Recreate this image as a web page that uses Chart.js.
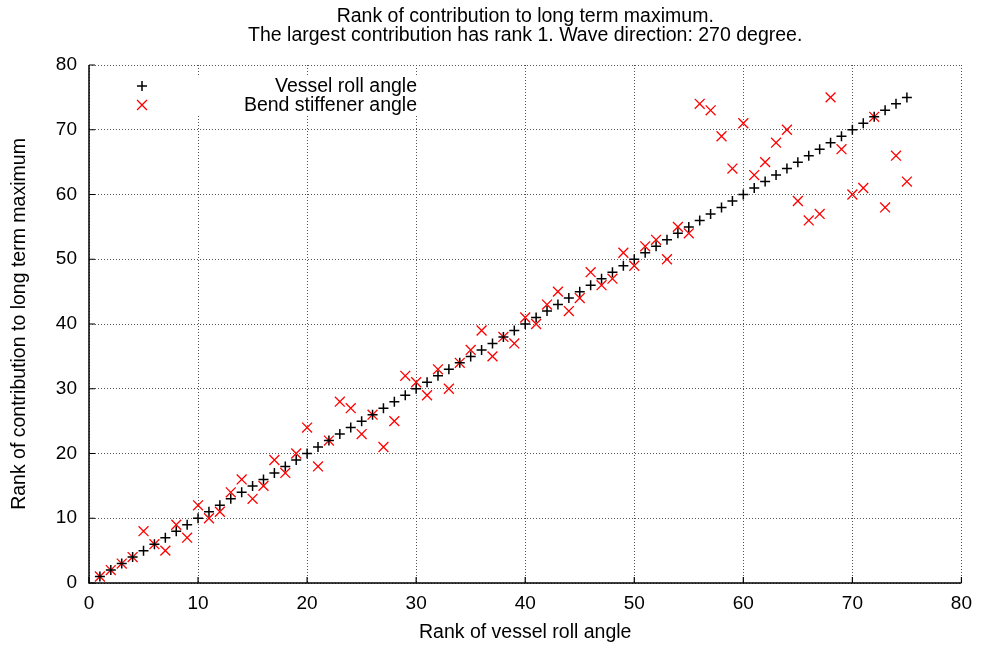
<!DOCTYPE html>
<html>
<head>
<meta charset="utf-8">
<script src="https://cdn.jsdelivr.net/npm/chart.js@4/dist/chart.umd.min.js"></script>
<style>
  html, body { margin: 0; padding: 0; background: #fff; }
  #wrap { width: 981px; height: 646px; }
</style>
</head>
<body>
<div id="wrap"><canvas id="rankChart" width="981" height="646"></canvas></div>
<script>
const rankX = [1, 2, 3, 4, 5, 6, 7, 8, 9, 10, 11, 12, 13, 14, 15, 16, 17, 18, 19, 20,
  21, 22, 23, 24, 25, 26, 27, 28, 29, 30, 31, 32, 33, 34, 35, 36, 37, 38, 39, 40,
  41, 42, 43, 44, 45, 46, 47, 48, 49, 50, 51, 52, 53, 54, 55, 56, 57, 58, 59, 60,
  61, 62, 63, 64, 65, 66, 67, 68, 69, 70, 71, 72, 73, 74, 75];

const vesselRank = [1, 2, 3, 4, 5, 6, 7, 8, 9, 10, 11, 12, 13, 14, 15, 16, 17, 18, 19, 20,
  21, 22, 23, 24, 25, 26, 27, 28, 29, 30, 31, 32, 33, 34, 35, 36, 37, 38, 39, 40,
  41, 42, 43, 44, 45, 46, 47, 48, 49, 50, 51, 52, 53, 54, 55, 56, 57, 58, 59, 60,
  61, 62, 63, 64, 65, 66, 67, 68, 69, 70, 71, 72, 73, 74, 75];

const bendRank = [1, 2, 3, 4, 8, 6, 5, 9, 7, 12, 10, 11, 14, 16, 13, 15, 19, 17, 20, 24,
  18, 22, 28, 27, 23, 26, 21, 25, 32, 31, 29, 33, 30, 34, 36, 39, 35, 38, 37, 41,
  40, 43, 45, 42, 44, 48, 46, 47, 51, 49, 52, 53, 50, 55, 54, 74, 73, 69, 64, 71,
  63, 65, 68, 70, 59, 56, 57, 75, 67, 60, 61, 72, 58, 66, 62];

const tickValues = [0, 10, 20, 30, 40, 50, 60, 70, 80];

const titleLines = ['Rank of contribution to long term maximum.',
                    'The largest contribution has rank 1. Wave direction: 270 degree.'];

const FONT = "'Liberation Sans', Arial, sans-serif";
const TEXT_SIZE = 19.5;

// title centred over the plot area
const plotTitle = {
    id: 'plotTitle',
    afterDraw(chart) {
        const {ctx, chartArea} = chart;
        const cx = (chartArea.left + chartArea.right) / 2;
        ctx.save();
        ctx.font = TEXT_SIZE + 'px ' + FONT;
        ctx.fillStyle = '#000';
        ctx.textAlign = 'center';
        ctx.textBaseline = 'middle';
        titleLines.forEach((line, i) => ctx.fillText(line, cx, 17 + i * 19));
        ctx.restore();
    }
};

// inward tick marks and solid left/bottom axis lines
const innerTicks = {
    id: 'innerTicks',
    afterDraw(chart) {
        const {ctx, chartArea, scales} = chart;
        ctx.save();
        ctx.strokeStyle = '#000';
        ctx.lineWidth = 1.2;
        ctx.beginPath();
        tickValues.forEach(v => {
            const px = scales.x.getPixelForValue(v);
            ctx.moveTo(px, chartArea.bottom);
            ctx.lineTo(px, chartArea.bottom - 6);
            const py = scales.y.getPixelForValue(v);
            ctx.moveTo(chartArea.left, py);
            ctx.lineTo(chartArea.left + 6, py);
        });
        ctx.stroke();
        ctx.lineWidth = 1.5;
        ctx.beginPath();
        ctx.moveTo(chartArea.left, chartArea.top);
        ctx.lineTo(chartArea.left, chartArea.bottom);
        ctx.lineTo(chartArea.right, chartArea.bottom);
        ctx.stroke();
        ctx.restore();
    }
};

// key in the upper left of the plot, on an opaque background
const insideKey = {
    id: 'insideKey',
    beforeDatasetsDraw(chart) {
        const {ctx, chartArea} = chart;
        ctx.save();
        ctx.fillStyle = '#fff';
        ctx.fillRect(chartArea.left + 1, 75, 336, 40);
        ctx.restore();
    },
    afterDraw(chart) {
        const {ctx} = chart;
        ctx.save();
        ctx.font = TEXT_SIZE + 'px ' + FONT;
        ctx.textAlign = 'right';
        ctx.textBaseline = 'middle';
        chart.data.datasets.forEach((ds, i) => {
            const y = 86 + i * 19;
            ctx.strokeStyle = ds.borderColor;
            ctx.fillStyle = ds.backgroundColor;
            ctx.lineWidth = ds.borderWidth;
            Chart.helpers.drawPoint(ctx, {
                pointStyle: ds.pointStyle,
                radius: ds.pointRadius,
                borderWidth: ds.borderWidth
            }, 142, y);
            ctx.fillStyle = '#000';
            ctx.fillText(ds.label, 417, y + 1);
        });
        ctx.restore();
    }
};

function initChart() {
    const ctx = document.getElementById('rankChart').getContext('2d');
    Chart.defaults.font.family = FONT;
    Chart.defaults.color = '#000';

    new Chart(ctx, {
        type: 'scatter',
        data: {
            datasets: [{
                label: 'Vessel roll angle',
                data: rankX.map((x, i) => ({x: x, y: vesselRank[i]})),
                pointStyle: 'cross',
                pointRadius: 5,
                borderColor: '#000',
                backgroundColor: '#000',
                borderWidth: 1.5
            }, {
                label: 'Bend stiffener angle',
                data: rankX.map((x, i) => ({x: x, y: bendRank[i]})),
                pointStyle: 'crossRot',
                pointRadius: 7,
                borderColor: '#ff0000',
                backgroundColor: '#ff0000',
                borderWidth: 1.3
            }]
        },
        options: {
            responsive: false,
            animation: false,
            layout: { padding: { left: 0, right: 19, top: 65, bottom: 0 } },
            scales: {
                x: {
                    type: 'linear',
                    min: 0,
                    max: 80,
                    afterFit(scale) { scale.height = 63; },
                    afterBuildTicks(scale) { scale.ticks = tickValues.map(v => ({value: v})); },
                    grid: { color: '#555', lineWidth: 1, drawTicks: false },
                    border: { display: false, dash: [1, 2] },
                    ticks: { padding: 9, font: { size: 19 }, color: '#000', maxRotation: 0 },
                    title: {
                        display: true,
                        text: 'Rank of vessel roll angle',
                        font: { size: TEXT_SIZE },
                        color: '#000',
                        padding: { top: 0, bottom: 2 }
                    }
                },
                y: {
                    type: 'linear',
                    min: 0,
                    max: 80,
                    afterFit(scale) { scale.width = 89; },
                    afterBuildTicks(scale) { scale.ticks = tickValues.map(v => ({value: v})); },
                    grid: { color: '#555', lineWidth: 1, drawTicks: false },
                    border: { display: false, dash: [1, 2] },
                    ticks: { padding: 12, font: { size: 19 }, color: '#000' },
                    title: {
                        display: true,
                        text: 'Rank of contribution to long term maximum',
                        font: { size: TEXT_SIZE },
                        color: '#000',
                        padding: { top: 8, bottom: 0 }
                    }
                }
            },
            plugins: {
                legend: { display: false },
                tooltip: { enabled: false },
                title: { display: false }
            }
        },
        plugins: [plotTitle, innerTicks, insideKey]
    });
}

document.addEventListener('DOMContentLoaded', initChart);
</script>
</body>
</html>
